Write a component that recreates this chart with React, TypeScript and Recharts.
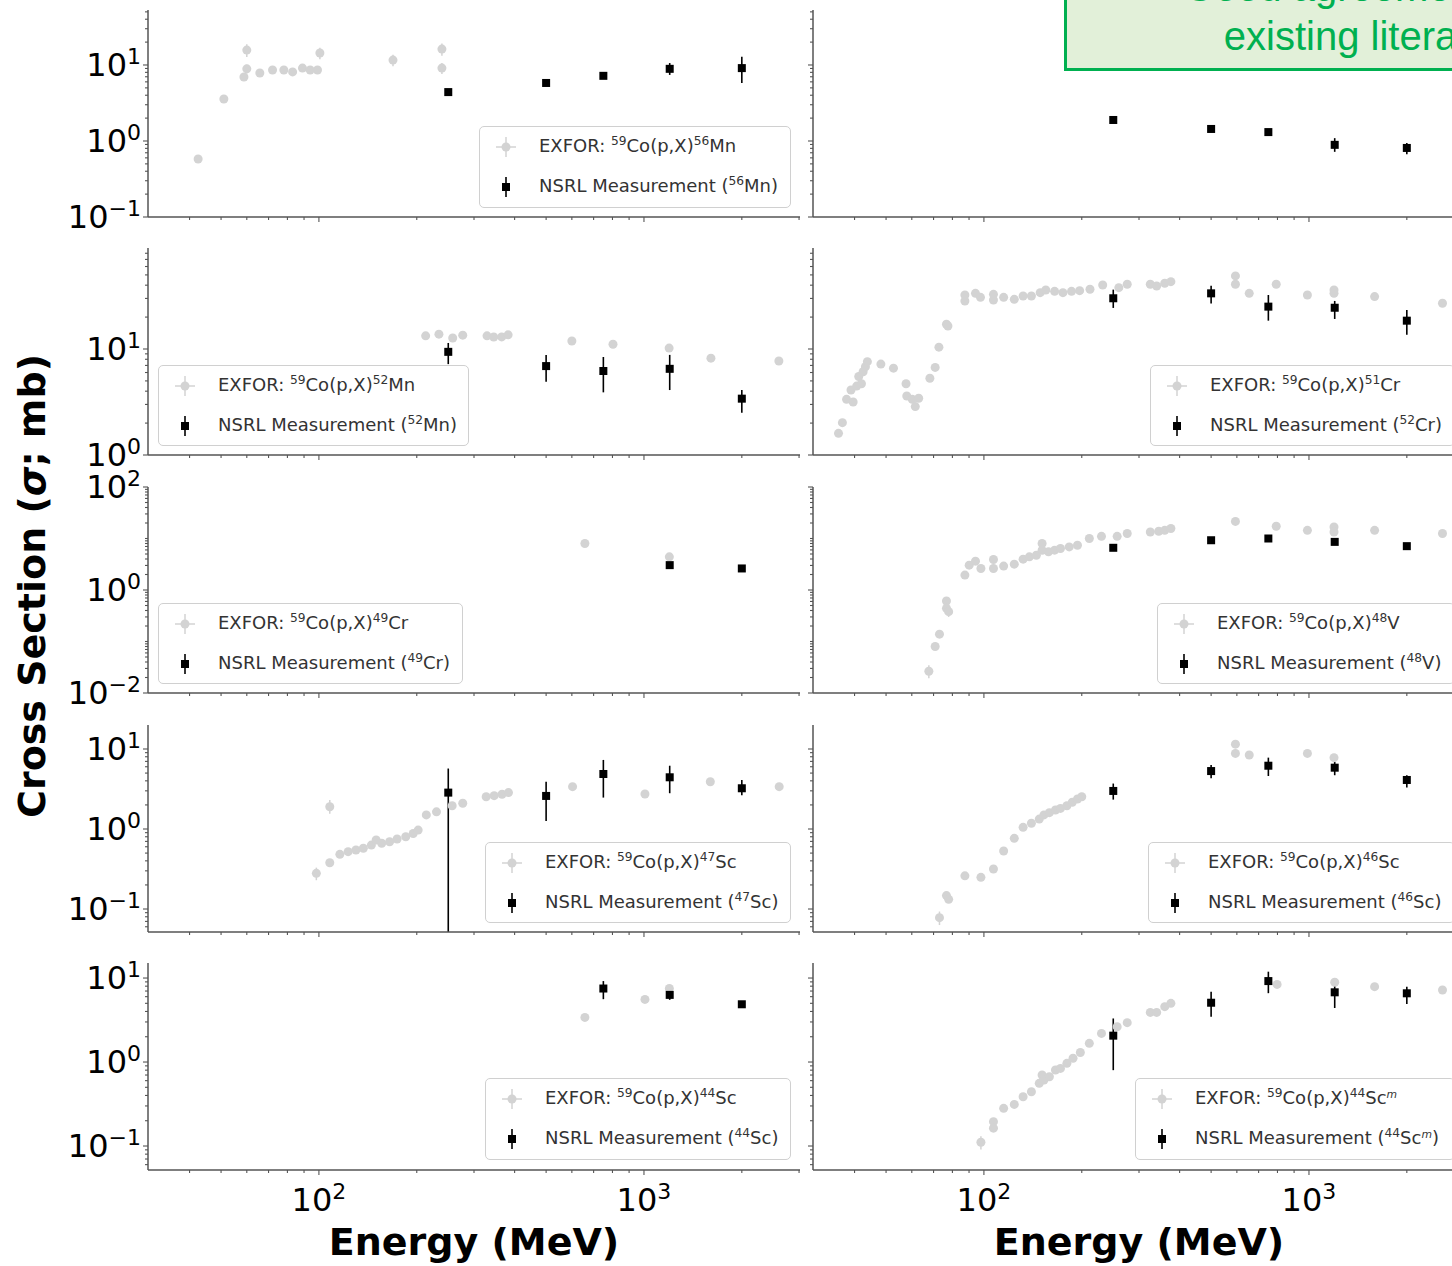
import React from 'react';
import { ScatterChart, Scatter, XAxis, YAxis, ErrorBar } from 'recharts';

const FONT = '"DejaVu Sans", sans-serif';
const AX = '#555';
const EXFOR_COLOR = '#d3d3d3';

type Pt = { x: number; y: number; e?: [number, number] };

// ---------- axis ticks ----------
const X_DOMAIN: [number, number] = [29.8, 3020];
const X_MAJOR = [100, 1000];
const X_MINOR = [40, 50, 60, 70, 80, 90, 200, 300, 400, 500, 600, 700, 800, 900, 2000, 3000];

const Y1_DOMAIN: [number, number] = [0.1, 52.9];
const Y1_MAJOR = [0.1, 1, 10];
const Y1_MINOR = [0.2, 0.3, 0.4, 0.5, 0.6, 0.7, 0.8, 0.9, 2, 3, 4, 5, 6, 7, 8, 9, 20, 30, 40, 50];

const Y2_DOMAIN: [number, number] = [1, 89.7];
const Y2_MAJOR = [1, 10];
const Y2_MINOR = [2, 3, 4, 5, 6, 7, 8, 9, 20, 30, 40, 50, 60, 70, 80];

const Y3_DOMAIN: [number, number] = [0.01, 100];
const Y3_MAJOR = [0.01, 1, 100];
const Y3_MINOR = [0.02, 0.03, 0.04, 0.05, 0.06, 0.07, 0.08, 0.09, 0.1, 0.2, 0.3, 0.4, 0.5, 0.6, 0.7, 0.8, 0.9,
  2, 3, 4, 5, 6, 7, 8, 9, 10, 20, 30, 40, 50, 60, 70, 80, 90];

const Y4_DOMAIN: [number, number] = [0.0516, 19.95];
const Y4_MAJOR = [0.1, 1, 10];
const Y4_MINOR = [0.06, 0.07, 0.08, 0.09, 0.2, 0.3, 0.4, 0.5, 0.6, 0.7, 0.8, 0.9, 2, 3, 4, 5, 6, 7, 8, 9];

const Y5_DOMAIN: [number, number] = [0.0518, 15.1];
const Y5_MAJOR = [0.1, 1, 10];
const Y5_MINOR = [0.06, 0.07, 0.08, 0.09, 0.2, 0.3, 0.4, 0.5, 0.6, 0.7, 0.8, 0.9, 2, 3, 4, 5, 6, 7, 8, 9];

// ---------- data (Energy MeV, cross section mb) ----------
const NSRL_E = [250, 500, 750, 1200, 2000];

const exforMn56: Pt[] = [
  { x: 42.5, y: 0.58 }, { x: 51, y: 3.57 }, { x: 58.8, y: 6.95 }, { x: 60, y: 15.7, e: [3, 3] },
  { x: 60, y: 8.9, e: [1.2, 1.2] }, { x: 65.8, y: 7.85 }, { x: 72, y: 8.6 }, { x: 78, y: 8.6 },
  { x: 83, y: 8.1 }, { x: 89, y: 9.1 }, { x: 94, y: 8.6 }, { x: 99, y: 8.6 },
  { x: 100.7, y: 14.4, e: [2.5, 2.5] }, { x: 169, y: 11.6, e: [2, 2] },
  { x: 239, y: 16.2, e: [3, 3] }, { x: 239, y: 9.1, e: [1.5, 1.5] },
];
const nsrlMn56: Pt[] = [
  { x: NSRL_E[0], y: 4.4, e: [0.4, 0.4] }, { x: NSRL_E[1], y: 5.8, e: [0.5, 0.5] },
  { x: NSRL_E[2], y: 7.2, e: [0.6, 0.6] }, { x: NSRL_E[3], y: 8.9, e: [1.5, 1.7] },
  { x: NSRL_E[4], y: 9.1, e: [3.3, 3.7] },
];

const exforTopRight: Pt[] = [];
const nsrlTopRight: Pt[] = [
  { x: NSRL_E[0], y: 1.89, e: [0.12, 0.12] }, { x: NSRL_E[1], y: 1.44, e: [0.1, 0.1] },
  { x: NSRL_E[2], y: 1.31, e: [0.1, 0.1] }, { x: NSRL_E[3], y: 0.89, e: [0.17, 0.2] },
  { x: NSRL_E[4], y: 0.81, e: [0.14, 0.13] },
];

const exforMn52: Pt[] = [
  { x: 213, y: 13.3 }, { x: 234, y: 13.8 }, { x: 258, y: 12.7 }, { x: 277, y: 13.5 },
  { x: 329, y: 13.3 }, { x: 345, y: 12.97 }, { x: 365, y: 13.0 }, { x: 382, y: 13.6 },
  { x: 600, y: 11.9 }, { x: 803, y: 11.1 }, { x: 1195, y: 10.2 }, { x: 1607, y: 8.2 }, { x: 2600, y: 7.7 },
];
const nsrlMn52: Pt[] = [
  { x: NSRL_E[0], y: 9.4, e: [2.2, 2.0] }, { x: NSRL_E[1], y: 6.9, e: [2.0, 1.9] },
  { x: NSRL_E[2], y: 6.2, e: [2.3, 2.2] }, { x: NSRL_E[3], y: 6.5, e: [2.4, 2.3] },
  { x: NSRL_E[4], y: 3.4, e: [0.9, 0.7] },
];

const exforCr51: Pt[] = [
  { x: 35.7, y: 1.6 }, { x: 36.7, y: 2.02 }, { x: 37.8, y: 3.35 }, { x: 39.6, y: 3.16 }, { x: 39, y: 4.1 },
  { x: 40.6, y: 4.47 }, { x: 41.2, y: 5.5 }, { x: 42.5, y: 6.1 }, { x: 43.2, y: 6.8 }, { x: 43.8, y: 7.6 },
  { x: 42, y: 4.7 }, { x: 48.2, y: 7.2 }, { x: 52.7, y: 6.6 }, { x: 57.6, y: 4.7 }, { x: 57.9, y: 3.6 },
  { x: 60.2, y: 3.35 }, { x: 61.5, y: 2.86 }, { x: 63, y: 3.43 }, { x: 68.2, y: 5.3 }, { x: 70.8, y: 6.7 },
  { x: 72.7, y: 10.4 }, { x: 76.7, y: 17.1 }, { x: 77.5, y: 16.5 }, { x: 87.4, y: 32.3 }, { x: 87.4, y: 28.4 },
  { x: 94.2, y: 33.5 }, { x: 97.6, y: 30.7 }, { x: 107, y: 32.8 }, { x: 107, y: 29 }, { x: 115, y: 30.7 },
  { x: 124, y: 29.4 }, { x: 132, y: 31.6 }, { x: 140, y: 31.6 }, { x: 149, y: 34 }, { x: 155, y: 36 },
  { x: 165, y: 35 }, { x: 175, y: 34 }, { x: 186, y: 35 }, { x: 197, y: 35.5 }, { x: 212, y: 36.6 },
  { x: 232, y: 40.2, e: [3, 3] }, { x: 260, y: 37.9 }, { x: 276, y: 40.8 }, { x: 325, y: 40.8 }, { x: 340, y: 39.3 },
  { x: 360, y: 41.7 }, { x: 376, y: 43.2 }, { x: 594, y: 48.9, e: [4, 4] }, { x: 594, y: 40.8 }, { x: 655, y: 33.5 },
  { x: 793, y: 40.8 }, { x: 989, y: 32.3 }, { x: 1194, y: 36, e: [3, 3] }, { x: 1194, y: 33.5 }, { x: 1592, y: 31.2 },
  { x: 2575, y: 27 },
];
const nsrlCr52: Pt[] = [
  { x: NSRL_E[0], y: 30.1, e: [5.7, 6.2] }, { x: NSRL_E[1], y: 33.5, e: [6.7, 6.0] },
  { x: NSRL_E[2], y: 25.1, e: [6.6, 7.2] }, { x: NSRL_E[3], y: 24.5, e: [5.3, 3.9] },
  { x: NSRL_E[4], y: 18.5, e: [4.9, 4.8] },
];

const exforCr49: Pt[] = [{ x: 658, y: 7.98 }, { x: 1197, y: 4.4 }];
const nsrlCr49: Pt[] = [
  { x: NSRL_E[3], y: 3.04, e: [0.3, 0.3] }, { x: NSRL_E[4], y: 2.62, e: [0.25, 0.25] },
];

const exforV48: Pt[] = [
  { x: 67.7, y: 0.0264, e: [0.007, 0.008] }, { x: 70.8, y: 0.08 }, { x: 73, y: 0.139, e: [0.02, 0.02] },
  { x: 76.7, y: 0.61 }, { x: 76.7, y: 0.44 }, { x: 77.9, y: 0.38, e: [0.08, 0.08] }, { x: 87.4, y: 1.95 },
  { x: 90.1, y: 3.04 }, { x: 94.2, y: 3.63 }, { x: 97.9, y: 2.62 }, { x: 107, y: 3.92 }, { x: 107, y: 2.62 },
  { x: 115, y: 2.91 }, { x: 124, y: 3.18 }, { x: 132, y: 3.97 }, { x: 138, y: 4.4 }, { x: 145, y: 4.74 },
  { x: 151, y: 7.98 }, { x: 151, y: 5.9 }, { x: 158, y: 5.5 }, { x: 165, y: 5.93 }, { x: 172, y: 6.4 },
  { x: 183, y: 6.87 }, { x: 194, y: 7.4 }, { x: 211, y: 9.98 }, { x: 230, y: 11 }, { x: 257, y: 11 },
  { x: 276, y: 12.5 }, { x: 325, y: 13.4 }, { x: 345, y: 13.8 }, { x: 360, y: 14.4 }, { x: 376, y: 15.6 },
  { x: 594, y: 21.5 }, { x: 793, y: 17.3 }, { x: 989, y: 14.4 }, { x: 1194, y: 16.7 }, { x: 1194, y: 13.4 },
  { x: 1592, y: 14.4 }, { x: 2575, y: 12.5 },
];
const nsrlV48: Pt[] = [
  { x: NSRL_E[0], y: 6.6, e: [0.6, 0.6] }, { x: NSRL_E[1], y: 9.25, e: [0.8, 0.8] },
  { x: NSRL_E[2], y: 10, e: [1, 1] }, { x: NSRL_E[3], y: 8.6, e: [0.9, 0.9] },
  { x: NSRL_E[4], y: 7.1, e: [0.6, 0.6] },
];

const exforSc47: Pt[] = [
  { x: 98.2, y: 0.279, e: [0.05, 0.05] }, { x: 108, y: 0.379 }, { x: 108, y: 1.9, e: [0.35, 0.4] },
  { x: 116, y: 0.482 }, { x: 123, y: 0.521 }, { x: 130, y: 0.546 }, { x: 137, y: 0.574 }, { x: 145, y: 0.63 },
  { x: 150, y: 0.729 }, { x: 156, y: 0.663 }, { x: 165, y: 0.694 }, { x: 174, y: 0.75 }, { x: 185, y: 0.8 },
  { x: 195, y: 0.88 }, { x: 202, y: 0.97 }, { x: 214, y: 1.5 }, { x: 230, y: 1.64 }, { x: 257, y: 1.95 },
  { x: 277, y: 2.1 }, { x: 327, y: 2.53 }, { x: 346, y: 2.61 }, { x: 366, y: 2.72 }, { x: 383, y: 2.85 },
  { x: 603, y: 3.38 }, { x: 1007, y: 2.74 }, { x: 1600, y: 3.9 }, { x: 2606, y: 3.38 },
];
const nsrlSc47: Pt[] = [
  { x: NSRL_E[0], y: 2.85, e: [2.7984, 2.85] }, { x: NSRL_E[1], y: 2.59, e: [1.33, 1.31] },
  { x: NSRL_E[2], y: 4.87, e: [2.4, 2.43] }, { x: NSRL_E[3], y: 4.43, e: [1.63, 1.75] },
  { x: NSRL_E[4], y: 3.23, e: [0.58, 0.87] },
];

const exforSc46: Pt[] = [
  { x: 73, y: 0.078, e: [0.015, 0.015] }, { x: 76.7, y: 0.147 }, { x: 77.9, y: 0.132 }, { x: 87.4, y: 0.26 },
  { x: 97.9, y: 0.249 }, { x: 107, y: 0.316 }, { x: 115, y: 0.531 }, { x: 124, y: 0.765 }, { x: 132, y: 1.05 },
  { x: 140, y: 1.18 }, { x: 148, y: 1.33 }, { x: 153, y: 1.5 }, { x: 159, y: 1.6 }, { x: 166, y: 1.73 },
  { x: 172, y: 1.81 }, { x: 180, y: 1.95 }, { x: 187, y: 2.16 }, { x: 194, y: 2.37 }, { x: 200, y: 2.53 },
  { x: 594, y: 11.5 }, { x: 594, y: 8.8 }, { x: 655, y: 8.4 }, { x: 989, y: 8.8 }, { x: 1194, y: 7.8 },
];
const nsrlSc46: Pt[] = [
  { x: NSRL_E[0], y: 2.99, e: [0.66, 0.71] }, { x: NSRL_E[1], y: 5.3, e: [1.0, 1.0] },
  { x: NSRL_E[2], y: 6.18, e: [1.58, 1.62] }, { x: NSRL_E[3], y: 5.84, e: [1.14, 1.06] },
  { x: NSRL_E[4], y: 4.1, e: [0.8, 0.6] },
];

const exforSc44: Pt[] = [{ x: 658, y: 3.4 }, { x: 1007, y: 5.57 }, { x: 1197, y: 7.5 }];
const nsrlSc44: Pt[] = [
  { x: NSRL_E[2], y: 7.5, e: [1.9, 1.7] }, { x: NSRL_E[3], y: 6.3, e: [0.8, 0.9] },
  { x: NSRL_E[4], y: 4.87, e: [0.4, 0.4] },
];

const exforSc44m: Pt[] = [
  { x: 97.9, y: 0.111, e: [0.02, 0.02] }, { x: 107, y: 0.195 }, { x: 107, y: 0.163 }, { x: 115, y: 0.281 },
  { x: 124, y: 0.313 }, { x: 132, y: 0.386 }, { x: 140, y: 0.443 }, { x: 148, y: 0.557 }, { x: 151, y: 0.7 },
  { x: 153, y: 0.61 }, { x: 159, y: 0.668 }, { x: 166, y: 0.803 }, { x: 172, y: 0.84 }, { x: 180, y: 0.964 },
  { x: 188, y: 1.11 }, { x: 198, y: 1.3 }, { x: 211, y: 1.67 }, { x: 230, y: 2.19 }, { x: 257, y: 2.63 },
  { x: 276, y: 2.94 }, { x: 325, y: 3.9 }, { x: 340, y: 3.9 }, { x: 360, y: 4.56 }, { x: 376, y: 5.0 },
  { x: 798, y: 8.4 }, { x: 1200, y: 8.9 }, { x: 1592, y: 7.9 }, { x: 2575, y: 7.2 },
];
const nsrlSc44m: Pt[] = [
  { x: NSRL_E[0], y: 2.06, e: [1.26, 1.24] }, { x: NSRL_E[1], y: 5.08, e: [1.62, 1.78] },
  { x: NSRL_E[2], y: 9.2, e: [2.6, 2.7] }, { x: NSRL_E[3], y: 6.76, e: [2.36, 1.84] },
  { x: NSRL_E[4], y: 6.58, e: [1.68, 1.32] },
];

// ---------- legend labels ----------
type Lbl = { mass: string; el: string; meta?: boolean };
const LBL_MN56: Lbl = { mass: '56', el: 'Mn' };
const LBL_MN52: Lbl = { mass: '52', el: 'Mn' };
const LBL_CR51: Lbl = { mass: '51', el: 'Cr' };
const LBL_CR52: Lbl = { mass: '52', el: 'Cr' };
const LBL_CR49: Lbl = { mass: '49', el: 'Cr' };
const LBL_V48: Lbl = { mass: '48', el: 'V' };
const LBL_SC47: Lbl = { mass: '47', el: 'Sc' };
const LBL_SC46: Lbl = { mass: '46', el: 'Sc' };
const LBL_SC44: Lbl = { mass: '44', el: 'Sc' };
const LBL_SC44M: Lbl = { mass: '44', el: 'Sc', meta: true };

// ---------- layout ----------
const PLOT_W = 652;
const ROW_TOPS = [10, 248, 487, 725, 963];
const ROW_H = [207, 207, 206, 207, 207];
const COL_LEFT = [148, 813];

type LegendPos = { left: number; top: number; width: number; height: number; ex: Lbl; ns: Lbl };

type Panel = {
  row: number; col: number;
  exfor: Pt[]; nsrl: Pt[];
  yDomain: [number, number]; yMajor: number[]; yMinor: number[];
  legend?: LegendPos;
};

const PANELS: Panel[] = [
  { row: 0, col: 0, exfor: exforMn56, nsrl: nsrlMn56, yDomain: Y1_DOMAIN, yMajor: Y1_MAJOR, yMinor: Y1_MINOR,
    legend: { left: 479, top: 126, width: 312, height: 82, ex: LBL_MN56, ns: LBL_MN56 } },
  { row: 0, col: 1, exfor: exforTopRight, nsrl: nsrlTopRight, yDomain: Y1_DOMAIN, yMajor: Y1_MAJOR, yMinor: Y1_MINOR },
  { row: 1, col: 0, exfor: exforMn52, nsrl: nsrlMn52, yDomain: Y2_DOMAIN, yMajor: Y2_MAJOR, yMinor: Y2_MINOR,
    legend: { left: 158, top: 365, width: 311, height: 81, ex: LBL_MN52, ns: LBL_MN52 } },
  { row: 1, col: 1, exfor: exforCr51, nsrl: nsrlCr52, yDomain: Y2_DOMAIN, yMajor: Y2_MAJOR, yMinor: Y2_MINOR,
    legend: { left: 1150, top: 365, width: 305, height: 81, ex: LBL_CR51, ns: LBL_CR52 } },
  { row: 2, col: 0, exfor: exforCr49, nsrl: nsrlCr49, yDomain: Y3_DOMAIN, yMajor: Y3_MAJOR, yMinor: Y3_MINOR,
    legend: { left: 158, top: 603, width: 305, height: 81, ex: LBL_CR49, ns: LBL_CR49 } },
  { row: 2, col: 1, exfor: exforV48, nsrl: nsrlV48, yDomain: Y3_DOMAIN, yMajor: Y3_MAJOR, yMinor: Y3_MINOR,
    legend: { left: 1157, top: 603, width: 298, height: 81, ex: LBL_V48, ns: LBL_V48 } },
  { row: 3, col: 0, exfor: exforSc47, nsrl: nsrlSc47, yDomain: Y4_DOMAIN, yMajor: Y4_MAJOR, yMinor: Y4_MINOR,
    legend: { left: 485, top: 842, width: 306, height: 81, ex: LBL_SC47, ns: LBL_SC47 } },
  { row: 3, col: 1, exfor: exforSc46, nsrl: nsrlSc46, yDomain: Y4_DOMAIN, yMajor: Y4_MAJOR, yMinor: Y4_MINOR,
    legend: { left: 1148, top: 842, width: 307, height: 81, ex: LBL_SC46, ns: LBL_SC46 } },
  { row: 4, col: 0, exfor: exforSc44, nsrl: nsrlSc44, yDomain: Y5_DOMAIN, yMajor: Y5_MAJOR, yMinor: Y5_MINOR,
    legend: { left: 485, top: 1078, width: 306, height: 82, ex: LBL_SC44, ns: LBL_SC44 } },
  { row: 4, col: 1, exfor: exforSc44m, nsrl: nsrlSc44m, yDomain: Y5_DOMAIN, yMajor: Y5_MAJOR, yMinor: Y5_MINOR,
    legend: { left: 1135, top: 1078, width: 320, height: 82, ex: LBL_SC44M, ns: LBL_SC44M } },
];

function expStr(v: number) {
  const p = Math.round(Math.log10(v));
  return p < 0 ? '\u2212' + String(-p) : String(p);
}

const circleShape = (p: any) => <circle cx={p.cx} cy={p.cy} r={4.5} fill={EXFOR_COLOR} />;
const squareShape = (p: any) => <rect x={p.cx - 4} y={p.cy - 4} width={8} height={8} fill="#000" />;

function PanelChart({ panel }: { panel: Panel }) {
  const { row, col } = panel;
  const isLeft = col === 0;
  const axisW = isLeft ? 148 : 12;
  const pageLeft = COL_LEFT[col] - axisW;
  const mt = 24;
  const plotH = ROW_H[row];
  const bottomRow = row === 4;
  const xh = bottomRow ? 64 : 24;
  const W = axisW + PLOT_W + 4;
  const H = mt + plotH + xh;
  const axisY = mt + plotH;
  const yTicks = [...panel.yMajor, ...panel.yMinor];
  const xTicks = [...X_MAJOR, ...X_MINOR];

  const yTick = (p: any) => {
    const v = p.payload.value;
    const major = panel.yMajor.includes(v);
    const len = major ? 5 : 3;
    return (
      <g>
        <line x1={axisW - len} x2={axisW} y1={p.y} y2={p.y} stroke={AX} strokeWidth={1.1} />
        {isLeft && major && (
          <text x={axisW - 7} y={p.y + 11} textAnchor="end" fontFamily={FONT} fontSize={32} fill="#000">
            10<tspan dy={-12} fontSize={22}>{expStr(v)}</tspan>
          </text>
        )}
      </g>
    );
  };
  const xTick = (p: any) => {
    const v = p.payload.value;
    const major = X_MAJOR.includes(v);
    const len = major ? 5 : 3;
    return (
      <g>
        <line x1={p.x} x2={p.x} y1={axisY} y2={axisY + len} stroke={AX} strokeWidth={1.1} />
        {bottomRow && major && (
          <text x={p.x} y={axisY + 41} textAnchor="middle" fontFamily={FONT} fontSize={32} fill="#000">
            10<tspan dy={-12} fontSize={22}>{expStr(v)}</tspan>
          </text>
        )}
      </g>
    );
  };

  return (
    <div style={{ position: 'absolute', left: pageLeft, top: ROW_TOPS[row] - mt }}>
      <ScatterChart width={W} height={H} margin={{ top: mt, right: 4, bottom: 0, left: 0 }}>
        <XAxis xAxisId="b" type="number" dataKey="x" scale="log" domain={X_DOMAIN} allowDataOverflow
          ticks={xTicks} interval={0} tick={xTick} tickLine={false} axisLine={{ stroke: AX, strokeWidth: 1.5 }} height={xh} />
        <XAxis xAxisId="t" orientation="top" type="number" domain={[0, 1]} ticks={[]} tick={false} tickLine={false}
          axisLine={{ stroke: AX, strokeWidth: 1.5 }} height={0} />
        <YAxis yAxisId="l" type="number" dataKey="y" scale="log" domain={panel.yDomain} allowDataOverflow
          ticks={yTicks} interval={0} tick={yTick} tickLine={false} axisLine={{ stroke: AX, strokeWidth: 1.5 }} width={axisW} />
        <YAxis yAxisId="r" orientation="right" type="number" domain={[0, 1]} ticks={[]} tick={false} tickLine={false}
          axisLine={{ stroke: AX, strokeWidth: 1.5 }} width={0} />
        <Scatter xAxisId="b" yAxisId="l" data={panel.exfor} shape={circleShape} isAnimationActive={false}>
          <ErrorBar dataKey="e" direction="y" width={0} stroke={EXFOR_COLOR} strokeWidth={1.5} />
        </Scatter>
        <Scatter xAxisId="b" yAxisId="l" data={panel.nsrl} shape={squareShape} isAnimationActive={false}>
          <ErrorBar dataKey="e" direction="y" width={0} stroke="#000" strokeWidth={1.6} />
        </Scatter>
      </ScatterChart>
    </div>
  );
}

const sup: React.CSSProperties = { fontSize: '0.68em', position: 'relative', top: '-0.6em' };

function LegendBox({ lg }: { lg: LegendPos }) {
  const { ex, ns } = lg;
  const m = (l: Lbl) => (l.meta ? <span style={{ ...sup, fontStyle: 'italic', fontSize: '0.6em' }}>m</span> : null);
  return (
    <div style={{
      position: 'absolute', left: lg.left, top: lg.top, width: lg.width, height: lg.height, boxSizing: 'border-box',
      border: '1px solid #d0d0d0', borderRadius: 5, background: 'rgba(255,255,255,0.85)',
      fontFamily: FONT, fontSize: 18, color: '#333',
    }}>
      <svg style={{ position: 'absolute', left: 0, top: 0 }} width={50} height={lg.height}>
        <line x1={16} x2={36} y1={20} y2={20} stroke={EXFOR_COLOR} strokeWidth={1.5} />
        <line x1={26} x2={26} y1={10} y2={30} stroke={EXFOR_COLOR} strokeWidth={1.5} />
        <circle cx={26} cy={20} r={4.5} fill={EXFOR_COLOR} />
        <line x1={26} x2={26} y1={50} y2={70} stroke="#000" strokeWidth={1.6} />
        <rect x={22} y={56} width={8} height={8} fill="#000" />
      </svg>
      <div style={{ position: 'absolute', left: 59, top: 8, whiteSpace: 'nowrap', lineHeight: '22px' }}>
        EXFOR: <span style={sup}>59</span>Co(p,X)<span style={sup}>{ex.mass}</span>{ex.el}{m(ex)}
      </div>
      <div style={{ position: 'absolute', left: 59, top: 48, whiteSpace: 'nowrap', lineHeight: '22px' }}>
        NSRL Measurement (<span style={sup}>{ns.mass}</span>{ns.el}{m(ns)})
      </div>
    </div>
  );
}

export default function App() {
  return (
    <div style={{ position: 'absolute', left: 0, top: 0, width: 1452, height: 1266, overflow: 'hidden', background: '#fff' }}>
      <svg style={{ position: 'absolute', left: 0, top: 0 }} width={1452} height={1266}>
        <text x={474} y={1255} textAnchor="middle" fontFamily={FONT} fontWeight="bold" fontSize={38} fill="#000">Energy (MeV)</text>
        <text x={1139} y={1255} textAnchor="middle" fontFamily={FONT} fontWeight="bold" fontSize={38} fill="#000">Energy (MeV)</text>
        <text transform="translate(45,586) rotate(-90)" textAnchor="middle" fontFamily={FONT} fontWeight="bold" fontSize={38} fill="#000">
          Cross Section (<tspan fontStyle="italic">σ</tspan>; mb)
        </text>
      </svg>
      {PANELS.map((p, i) => <PanelChart key={i} panel={p} />)}
      {PANELS.map((p, i) => (p.legend ? <LegendBox key={'lg' + i} lg={p.legend} /> : null))}
      <svg style={{ position: 'absolute', left: 0, top: 0 }} width={1452} height={1266}>
        <rect x={1065.5} y={-60} width={620} height={129.5} fill="#e2f0d9" stroke="#00b050" strokeWidth={3} />
        <text x={1375} y={1} textAnchor="middle" fontFamily='"Liberation Sans", Arial, sans-serif' fontSize={40} fill="#00b050">Good agreement with</text>
        <text x={1375} y={50} textAnchor="middle" fontFamily='"Liberation Sans", Arial, sans-serif' fontSize={40} fill="#00b050">existing literature</text>
      </svg>
    </div>
  );
}
